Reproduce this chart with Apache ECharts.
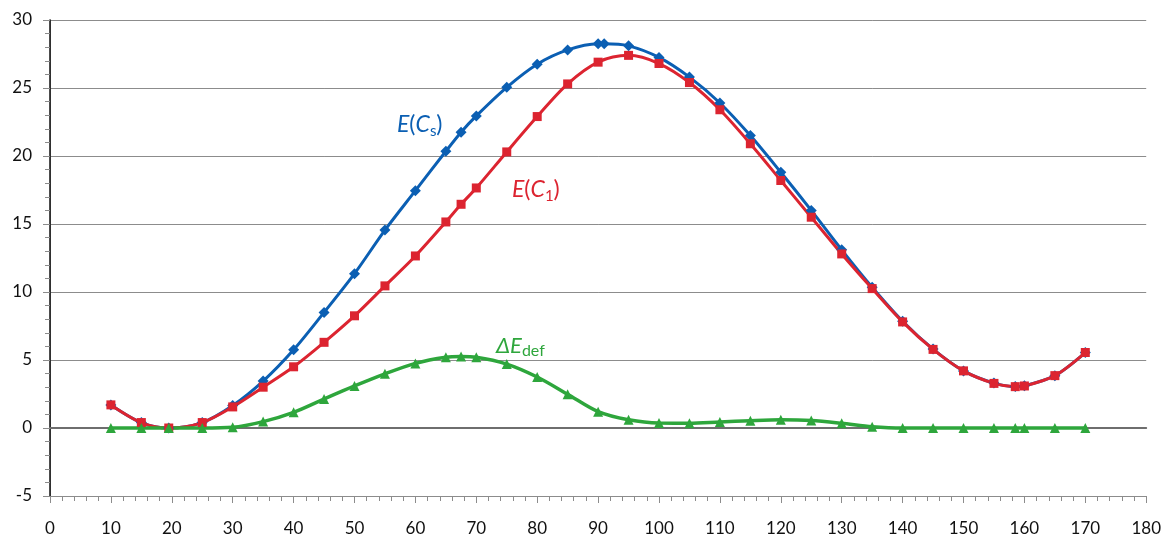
<!DOCTYPE html>
<html>
<head>
<meta charset="utf-8">
<script src="https://cdn.jsdelivr.net/npm/echarts@6/dist/echarts.min.js"></script>
<style>
  html, body { margin: 0; padding: 0; background: #fff; }
  #main { width: 1164px; height: 537px; }
</style>
</head>
<body>
<div id="main"></div>
<script>
// 数据
var anglesCs = [10, 15, 19.5, 25, 30, 35, 40, 45, 50, 55, 60, 65, 67.5, 70, 75, 80, 85, 90, 91, 95,
  100, 105, 110, 115, 120, 125, 130, 135, 140, 145, 150, 155, 158.5, 160, 165, 170];
var valuesCs = [1.7, 0.4, 0.0, 0.4, 1.65, 3.45, 5.75, 8.5, 11.35, 14.55, 17.45, 20.35, 21.75, 22.95, 25.05, 26.75, 27.8, 28.25, 28.25, 28.1,
  27.25, 25.8, 23.9, 21.5, 18.8, 16.0, 13.1, 10.35, 7.85, 5.8, 4.2, 3.3, 3.05, 3.1, 3.85, 5.55];

var angles = [10, 15, 19.5, 25, 30, 35, 40, 45, 50, 55, 60, 65, 67.5, 70, 75, 80, 85, 90, 95,
  100, 105, 110, 115, 120, 125, 130, 135, 140, 145, 150, 155, 158.5, 160, 165, 170];
var valuesC1 = [1.7, 0.4, 0.0, 0.4, 1.55, 3.0, 4.5, 6.3, 8.25, 10.45, 12.65, 15.15, 16.45, 17.65, 20.3, 22.9, 25.3, 26.9, 27.4,
  26.8, 25.4, 23.4, 20.9, 18.2, 15.5, 12.8, 10.25, 7.8, 5.78, 4.2, 3.28, 3.04, 3.09, 3.85, 5.55];
var valuesDef = [0, 0, 0, 0, 0.05, 0.47, 1.15, 2.13, 3.09, 3.98, 4.75, 5.2, 5.25, 5.2, 4.7, 3.75, 2.48, 1.2, 0.6,
  0.36, 0.35, 0.45, 0.54, 0.6, 0.55, 0.35, 0.1, 0, 0, 0, 0, 0, 0, 0, 0];

var BLUE = '#0b5fb3';
var RED = '#dc2430';
var GREEN = '#2ea63c';
var FONT = 'Lato, "Open Sans", sans-serif';

function pairs(xs, ys) {
  return xs.map(function (x, i) { return [x, ys[i]]; });
}

var chart = echarts.init(document.getElementById('main'));

var option = {
  animation: false,
  backgroundColor: '#fff',
  grid: { left: 50, right: 17, top: 20, bottom: 41 },
  xAxis: [
    {
      type: 'value', min: 0, max: 180, interval: 10,
      axisLine: { onZero: false, lineStyle: { color: '#8c8c8c', width: 1 } },
      axisTick: { show: true, length: 7, lineStyle: { color: '#8c8c8c' } },
      minorTick: { show: true, splitNumber: 5, length: 5, lineStyle: { color: '#8c8c8c' } },
      axisLabel: { color: '#111', fontFamily: FONT, fontSize: 17, margin: 24 },
      splitLine: { show: false }
    },
    {
      type: 'value', min: 0, max: 180, position: 'top',
      axisLine: { show: true, lineStyle: { color: '#6e6e6e', width: 2 } },
      axisTick: { show: false }, axisLabel: { show: false }, splitLine: { show: false }
    }
  ],
  yAxis: [
    {
      type: 'value', min: -5, max: 30, interval: 5,
      axisLine: { show: true, onZero: false, lineStyle: { color: '#8c8c8c' } },
      axisTick: { show: true, length: 7, lineStyle: { color: '#8c8c8c' } },
      minorTick: { show: true, splitNumber: 5, length: 5, lineStyle: { color: '#8c8c8c' } },
      axisLabel: { color: '#111', fontFamily: FONT, fontSize: 17, margin: 18 },
      splitLine: { show: true, lineStyle: { color: '#8c8c8c', width: 1 } }
    },
    {
      type: 'value', min: -5, max: 30, position: 'right',
      axisLine: { show: true, lineStyle: { color: '#111', width: 1.5 } },
      axisTick: { show: false }, axisLabel: { show: false }, splitLine: { show: false }
    }
  ],
  series: [
    {
      name: 'E(Cs)', type: 'line', smooth: 0.3,
      data: pairs(anglesCs, valuesCs),
      symbol: 'diamond', symbolSize: 11,
      lineStyle: { color: BLUE, width: 3 },
      itemStyle: { color: BLUE }
    },
    {
      name: 'E(C1)', type: 'line', smooth: 0.3,
      data: pairs(angles, valuesC1),
      symbol: 'rect', symbolSize: 9,
      lineStyle: { color: RED, width: 3 },
      itemStyle: { color: RED }
    },
    {
      name: 'ΔEdef', type: 'line', smooth: 0.3,
      data: pairs(angles, valuesDef),
      symbol: 'triangle', symbolSize: 10,
      lineStyle: { color: GREEN, width: 3.5 },
      itemStyle: { color: GREEN }
    }
  ],
  graphic: [
    {
      type: 'text', left: 397, top: 113,
      style: {
        text: '{i|E}{n|(}{i|C}{s|s}{n|)}',
        fill: BLUE,
        rich: {
          i: { fontFamily: FONT, fontStyle: 'italic', fontSize: 23, lineHeight: 28, fill: BLUE },
          n: { fontFamily: FONT, fontSize: 23, lineHeight: 28, fill: BLUE },
          s: { fontFamily: FONT, fontSize: 15, lineHeight: 10, verticalAlign: 'bottom', fill: BLUE }
        }
      }
    },
    {
      type: 'text', left: 512, top: 178,
      style: {
        text: '{i|E}{n|(}{i|C}{s|1}{n|)}',
        fill: RED,
        rich: {
          i: { fontFamily: FONT, fontStyle: 'italic', fontSize: 23, lineHeight: 28, fill: RED },
          n: { fontFamily: FONT, fontSize: 23, lineHeight: 28, fill: RED },
          s: { fontFamily: FONT, fontSize: 15, lineHeight: 10, verticalAlign: 'bottom', fill: RED }
        }
      }
    },
    {
      type: 'text', left: 496, top: 335,
      style: {
        text: '{i|ΔE}{s|def}',
        fill: GREEN,
        rich: {
          i: { fontFamily: FONT, fontStyle: 'italic', fontSize: 22, lineHeight: 26, fill: GREEN },
          s: { fontFamily: FONT, fontSize: 16, lineHeight: 12, verticalAlign: 'bottom', fill: GREEN }
        }
      }
    }
  ]
};

chart.setOption(option);
</script>
</body>
</html>
